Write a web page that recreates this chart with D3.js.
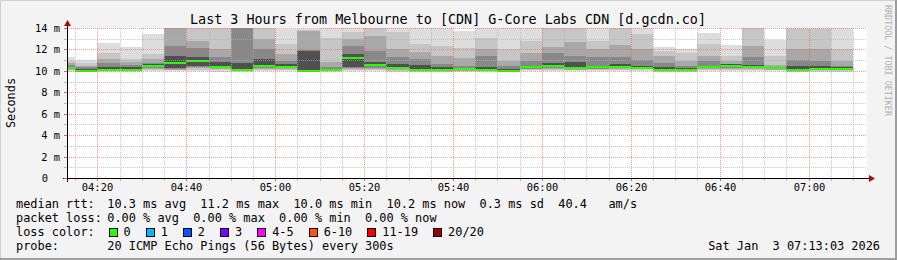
<!DOCTYPE html>
<html>
<head>
<meta charset="utf-8">
<script src="https://cdn.jsdelivr.net/npm/d3@7"></script>
<style>
body { margin: 0; background: #f3f3f3; }
text { font-family: "DejaVu Sans Mono", monospace; white-space: pre; }
</style>
</head>
<body>
<svg id="chart" width="897" height="260"></svg>
<script>
// 5 minute slots (start time), 20 pings each, values in ms
const slotStart = ["04:10","04:15","04:20","04:25","04:30","04:35","04:40","04:45","04:50","04:55",
                   "05:00","05:05","05:10","05:15","05:20","05:25","05:30","05:35","05:40","05:45",
                   "05:50","05:55","06:00","06:05","06:10","06:15","06:20","06:25","06:30","06:35",
                   "06:40","06:45","06:50","06:55","07:00","07:05"];

// sorted ping ranks
const ping01 = [9.90,9.85,9.85,9.85,9.95,9.95,10.00,9.90,9.85,9.95,9.95,9.85,9.85,10.00,9.95,9.90,9.85,9.85,
                9.85,9.85,9.85,9.95,10.00,9.95,9.95,10.00,9.95,9.85,9.85,10.00,9.95,10.00,9.95,9.85,9.90,9.90];
const ping03 = [10.05,9.92,9.95,9.95,10.08,10.05,10.10,10.05,9.95,10.08,10.08,9.92,9.95,10.10,10.10,10.03,9.93,9.93,
                9.95,9.95,9.92,10.05,10.10,10.05,10.05,10.08,10.05,9.93,9.93,10.08,10.05,10.08,10.05,9.93,10.02,10.02];
const ping05 = [10.12,9.96,10.00,10.00,10.18,10.12,10.25,10.15,10.00,10.20,10.16,9.96,10.02,10.18,10.20,10.10,9.99,9.99,
                10.02,10.02,9.96,10.15,10.20,10.12,10.15,10.16,10.13,9.99,9.99,10.16,10.20,10.16,10.12,9.99,10.10,10.10];
const ping07 = [10.17,9.99,10.04,10.04,10.28,10.18,10.38,10.25,10.04,10.30,10.25,9.99,10.06,10.25,10.30,10.15,10.03,10.02,
                10.07,10.06,9.98,10.22,10.30,10.18,10.22,10.24,10.18,10.03,10.03,10.23,10.30,10.23,10.18,10.04,10.15,10.15];
const ping09 = [10.21,10.00,10.07,10.07,10.38,10.25,10.50,10.32,10.07,10.40,10.33,10.00,10.09,10.33,10.42,10.20,10.06,10.05,
                10.11,10.09,10.00,10.30,10.38,10.23,10.28,10.30,10.22,10.07,10.07,10.28,10.40,10.28,10.22,10.09,10.18,10.18];
const pingMedian = [10.25,10.02,10.10,10.10,10.47,10.73,10.95,10.38,10.10,10.48,10.40,10.02,10.12,11.20,10.52,10.25,10.08,10.07,
                    10.15,10.12,10.02,10.35,10.45,10.27,10.33,10.35,10.26,10.10,10.10,10.33,10.50,10.33,10.25,10.12,10.20,10.20];
const ping12 = [10.40,10.20,10.39,10.39,10.60,11.40,11.26,10.79,10.70,11.10,10.63,11.90,10.20,11.57,10.85,10.65,10.57,10.33,
                10.30,10.40,10.20,10.50,10.75,10.79,10.50,10.60,10.50,10.35,10.25,10.50,10.60,10.55,10.32,10.50,10.45,10.35];
const ping14 = [10.55,10.33,10.70,10.54,10.75,12.35,12.13,11.26,14.20,12.04,10.95,11.95,10.40,12.35,11.88,11.26,11.10,10.64,
                10.50,11.40,10.50,10.95,11.70,11.41,11.26,11.30,11.00,10.70,10.50,10.95,10.65,11.30,10.40,11.00,10.90,10.50];
const ping16 = [10.75,10.48,11.10,10.79,11.10,14.10,12.80,12.04,14.80,12.97,11.57,13.70,10.79,12.97,13.30,12.04,11.72,11.41,
                11.20,12.00,10.95,11.70,12.20,12.66,12.04,12.40,12.05,11.40,10.95,11.40,10.95,12.30,10.55,12.00,12.00,10.95];
const ping18 = [10.95,10.70,11.66,11.10,11.57,14.50,14.05,14.05,15.50,14.05,12.50,13.85,13.10,13.60,14.05,13.60,12.50,12.35,
                12.10,13.10,12.00,12.80,14.00,14.10,12.80,14.05,13.40,11.90,11.70,12.50,11.40,14.10,11.35,13.90,13.90,12.00];
const ping20 = [11.26,11.00,12.60,12.25,13.44,15.00,14.30,14.30,16.00,14.30,13.90,13.90,14.00,14.00,14.20,14.00,14.00,14.00,
                13.70,14.00,14.00,14.00,14.30,14.30,14.00,14.20,14.00,12.20,12.05,13.50,12.44,14.50,12.88,14.30,14.10,14.00];

const yTicks = [0, 2, 4, 6, 8, 10, 12, 14];
const lossLabels = ["0", "1", "2", "3", "4-5", "6-10", "11-19", "20/20"];
const lossColors = ["#26ff00", "#00b8ff", "#0059ff", "#7e00ff", "#ff00ff", "#ff5500", "#ff0000", "#a10000"];

const statsRtt = "10.3 ms avg  11.2 ms max  10.0 ms min  10.2 ms now  0.3 ms sd  40.4   am/s";
const statsLoss = "0.00 % avg  0.00 % max  0.00 % min  0.00 % now";
const probeText = "20 ICMP Echo Pings (56 Bytes) every 300s";
const stampText = "Sat Jan  3 07:13:03 2026";
const titleText = "Last 3 Hours from Melbourne to [CDN] G-Core Labs CDN [d.gcdn.co]";

const svg = d3.select("#chart");
const W = 897, H = 260;
const margin = { left: 67, top: 28, width: 800, height: 150 };
const plotRight = margin.left + margin.width;
const plotBottom = margin.top + margin.height;

const parseT = t => {
    const [h, m] = t.split(":").map(Number);
    return new Date(2026, 0, 3, h, m, 0);
};
const tEnd = new Date(2026, 0, 3, 7, 13, 3);
const tStart = new Date(tEnd.getTime() - 3 * 3600 * 1000);

const x = d3.scaleTime().domain([tStart, tEnd]).range([margin.left, plotRight]);
const y = d3.scaleLinear().domain([0, 14]).range([plotBottom, margin.top]);
const xi = t => Math.floor(x(t));
const yi = v => Math.round(y(v));

// background + frame
svg.append("rect").attr("width", W).attr("height", H).attr("fill", "#f3f3f3");
svg.append("rect").attr("x", 0).attr("y", 0).attr("width", W).attr("height", 1).attr("fill", "#cfcfcf");
svg.append("rect").attr("x", 0).attr("y", 0).attr("width", 1).attr("height", H).attr("fill", "#cfcfcf");
svg.append("rect").attr("x", 0).attr("y", H - 2).attr("width", W).attr("height", 2).attr("fill", "#9e9e9e");
svg.append("rect").attr("x", W - 2).attr("y", 0).attr("width", 2).attr("height", H).attr("fill", "#9e9e9e");

svg.append("rect")
    .attr("x", margin.left).attr("y", margin.top)
    .attr("width", margin.width).attr("height", margin.height)
    .attr("fill", "#ffffff");

svg.append("clipPath").attr("id", "plotclip")
    .append("rect")
    .attr("x", margin.left).attr("y", margin.top)
    .attr("width", margin.width).attr("height", margin.height);

const plot = svg.append("g").attr("clip-path", "url(#plotclip)");

// smoke: outer pair lightest, inner pairs darker
const bands = [
    [ping01, ping20, "#dddddd"],
    [ping03, ping18, "#c6c6c6"],
    [ping05, ping16, "#a8a8a8"],
    [ping07, ping14, "#888888"],
    [ping09, ping12, "#505050"]
];

const slots = slotStart.map((s, i) => {
    const t0 = parseT(s);
    return { i: i, t0: t0, t1: d3.timeMinute.offset(t0, 5) };
});

bands.forEach(([lo, hi, col]) => {
    plot.append("g").selectAll("rect")
        .data(slots)
        .join("rect")
        .attr("x", d => xi(d.t0))
        .attr("width", d => xi(d.t1) - xi(d.t0))
        .attr("y", d => y(hi[d.i]))
        .attr("height", d => y(lo[d.i]) - y(hi[d.i]))
        .attr("fill", col)
        .attr("shape-rendering", "crispEdges");
});

// median, coloured by loss (0 everywhere)
plot.append("g").selectAll("rect")
    .data(slots)
    .join("rect")
    .attr("x", d => xi(d.t0))
    .attr("width", d => xi(d.t1) - xi(d.t0))
    .attr("y", d => y(pingMedian[d.i]) - 1)
    .attr("height", 2)
    .attr("fill", lossColors[0])
    .attr("shape-rendering", "crispEdges");

// grid, dotted, drawn over the smoke: one 1x1 dot every 2px
const grid = svg.append("g").attr("shape-rendering", "crispEdges");
const minorX = d3.timeMinute.every(5).range(tStart, tEnd);
const isMajorX = t => t.getMinutes() % 20 === 0;
const majorX = minorX.filter(isMajorX);
const minorCol = "rgba(175,175,175,0.7)";
const majorCol = "rgba(230,90,90,0.6)";

const vdots = d3.range(margin.top, plotBottom, 2);
const hdots = d3.range(margin.left, plotRight, 2);
const vline = (t, col) => grid.append("g").selectAll("rect")
    .data(vdots).join("rect")
    .attr("x", xi(t)).attr("y", d => d)
    .attr("width", 1).attr("height", 1).attr("fill", col);
const hline = (v, col) => grid.append("g").selectAll("rect")
    .data(hdots).join("rect")
    .attr("x", d => d).attr("y", yi(v))
    .attr("width", 1).attr("height", 1).attr("fill", col);

minorX.filter(t => !isMajorX(t)).forEach(t => vline(t, minorCol));
d3.range(1, 14, 2).forEach(v => hline(v, minorCol));
majorX.forEach(t => vline(t, majorCol));
yTicks.filter(v => v > 0).forEach(v => hline(v, majorCol));

// axes
const axes = svg.append("g").attr("shape-rendering", "crispEdges");
axes.append("line")
    .attr("x1", 63).attr("x2", plotRight + 2)
    .attr("y1", plotBottom + 0.5).attr("y2", plotBottom + 0.5)
    .attr("stroke", "#000");
axes.append("line")
    .attr("x1", margin.left + 0.5).attr("x2", margin.left + 0.5)
    .attr("y1", plotBottom + 4).attr("y2", margin.top - 4)
    .attr("stroke", "#000");

minorX.forEach(t => axes.append("line")
    .attr("x1", xi(t) + 0.5).attr("x2", xi(t) + 0.5)
    .attr("y1", plotBottom + 1).attr("y2", plotBottom + 3)
    .attr("stroke", isMajorX(t) ? "#e06060" : "#bbbbbb"));

d3.range(0, 15).forEach(v => axes.append("line")
    .attr("x1", margin.left - 3).attr("x2", margin.left)
    .attr("y1", yi(v) + 0.5).attr("y2", yi(v) + 0.5)
    .attr("stroke", v % 2 === 0 ? "#e06060" : "#bbbbbb"));

svg.append("path")
    .attr("d", `M${plotRight + 2},${plotBottom - 3} L${plotRight + 8},${plotBottom + 0.5} L${plotRight + 2},${plotBottom + 4} Z`)
    .attr("fill", "#a01010");
svg.append("path")
    .attr("d", `M${margin.left - 3},${margin.top - 2} L${margin.left + 0.5},${margin.top - 8} L${margin.left + 4},${margin.top - 2} Z`)
    .attr("fill", "#a01010");

// axis labels
const fmt = d3.timeFormat("%H:%M");
svg.append("g").selectAll("text")
    .data(majorX)
    .join("text")
    .attr("x", d => xi(d) + 0.5)
    .attr("y", 191)
    .attr("text-anchor", "middle")
    .attr("font-size", 10.4)
    .attr("fill", "#000")
    .text(d => fmt(d));

svg.append("g").selectAll("text")
    .data(yTicks)
    .join("text")
    .attr("x", d => d === 0 ? 48 : 60)
    .attr("y", d => y(d) + 4)
    .attr("text-anchor", "end")
    .attr("font-size", 10.4)
    .attr("fill", "#000")
    .text(d => d === 0 ? "0" : d + " m");

svg.append("text")
    .attr("transform", "translate(15,103) rotate(-90)")
    .attr("text-anchor", "middle")
    .attr("font-size", 11.9)
    .text("Seconds");

svg.append("text")
    .attr("transform", "translate(885,5) rotate(90)")
    .attr("font-size", 8.4)
    .attr("fill", "#b0b0b0")
    .text("RRDTOOL / TOBI OETIKER");

svg.append("text")
    .attr("x", 448).attr("y", 24)
    .attr("text-anchor", "middle")
    .attr("font-size", 13.4)
    .text(titleText);

// legend
const lx = 16, vx = 107.3, fs = 11.9;
const legend = svg.append("g").attr("font-size", fs).attr("fill", "#000");
const row = (label, value, yy) => {
    legend.append("text").attr("x", lx).attr("y", yy).text(label);
    if (value) legend.append("text").attr("x", vx).attr("y", yy).text(value);
};
row("median rtt:", statsRtt, 208.3);
row("packet loss:", statsLoss, 222.2);
row("loss color:", null, 236.1);
row("probe:", probeText, 250);
legend.append("text").attr("x", 880).attr("y", 250).attr("text-anchor", "end").text(stampText);

const cw = fs * 0.602;
let bx = 108.5;
lossLabels.forEach((lab, i) => {
    legend.append("rect")
        .attr("x", bx + 0.5).attr("y", 228.5)
        .attr("width", 8).attr("height", 8)
        .attr("fill", lossColors[i])
        .attr("stroke", "#000")
        .attr("shape-rendering", "crispEdges");
    legend.append("text").attr("x", bx + 15).attr("y", 236.1).text(lab);
    bx = bx + 15 + lab.length * cw + 15;
});
</script>
</body>
</html>
